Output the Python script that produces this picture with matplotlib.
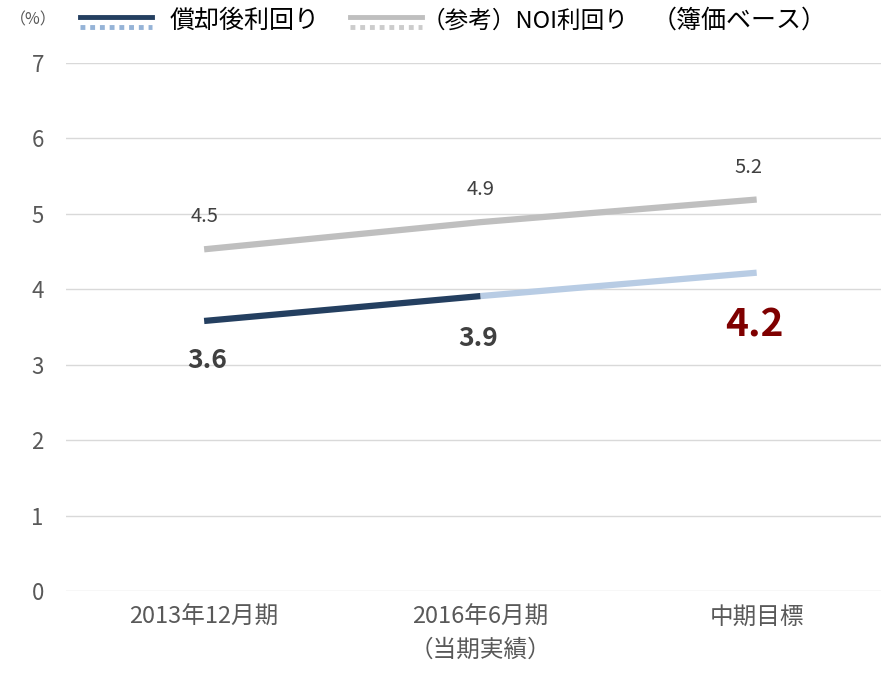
import matplotlib
matplotlib.use("Agg")
import matplotlib.pyplot as plt
from matplotlib.lines import Line2D

plt.rcParams['font.family'] = ['Noto Sans CJK JP', 'DejaVu Sans']

categories = ["2013年12月期", "2016年6月期\n（当期実績）", "中期目標"]
noi_yield = [4.53, 4.89, 5.19]
dep_yield = [3.58, 3.91, 4.22]
noi_labels = ["4.5", "4.9", "5.2"]
dep_labels = ["3.6", "3.9", "4.2"]
yticks = [0, 1, 2, 3, 4, 5, 6, 7]

W, H = 881, 676
fig = plt.figure(figsize=(W / 100, H / 100), dpi=100)
ax = fig.add_axes([66 / W, (H - 591) / H, 1 - 66 / W, (591 - 63) / H])

x = list(range(len(categories)))
ax.plot(x, noi_yield, color='#bfbfbf', lw=4.5, solid_capstyle='butt', zorder=3)
ax.plot(x[1:], dep_yield[1:], color='#b8cce4', lw=4.5, solid_capstyle='butt', zorder=3)
ax.plot(x[:2], dep_yield[:2], color='#243f60', lw=4.5, solid_capstyle='butt', zorder=4)

ax.set_xlim(-0.5, 2.45)
ax.set_ylim(0, 7)
ax.set_yticks(yticks)
ax.yaxis.grid(True, color='#d9d9d9', lw=1)
ax.set_axisbelow(True)
for s in ax.spines.values():
    s.set_visible(False)
ax.tick_params(axis='both', length=0, colors='#595959')
ax.tick_params(axis='y', pad=16, labelsize=16)
ax.tick_params(axis='x', pad=11, labelsize=17)
ax.set_xticks(x)
ax.set_xticklabels(categories, linespacing=1.55)

# data labels
noi_off = [(0, 0.43), (0, 0.43), (-0.03, 0.43)]
for i, (v, t) in enumerate(zip(noi_yield, noi_labels)):
    ax.text(i + noi_off[i][0], v + noi_off[i][1], t, ha='center', va='center',
            fontsize=14.5, color='#404040')
ax.text(0.01, dep_yield[0] - 0.52, dep_labels[0], ha='center', va='center',
        fontsize=19, fontweight='bold', color='#404040')
ax.text(0.99, dep_yield[1] - 0.56, dep_labels[1], ha='center', va='center',
        fontsize=19, fontweight='bold', color='#404040')
ax.text(1.99, dep_yield[2] - 0.69, dep_labels[2], ha='center', va='center',
        fontsize=28, fontweight='bold', color='#7f0000')

# legend (manual)
def fy(py):
    return 1 - py / H

fig.add_artist(Line2D([80 / W, 152 / W], [fy(17), fy(17)], color='#243f60', lw=3.5))
fig.add_artist(Line2D([80 / W, 152 / W], [fy(27), fy(27)], color='#95b3d7', lw=3.5,
                      linestyle=(0, (1, 1))))
fig.add_artist(Line2D([350 / W, 422 / W], [fy(17), fy(17)], color='#bfbfbf', lw=3.5))
fig.add_artist(Line2D([350 / W, 422 / W], [fy(27), fy(27)], color='#cccccc', lw=3.5,
                      linestyle=(0, (1, 1))))
fig.text(170 / W, fy(21), "償却後利回り", fontsize=18, color='#000000', va='center', ha='left')
fig.text(422 / W, fy(21), "（参考）NOI利回り", fontsize=17, color='#000000', va='center', ha='left')
fig.text(652 / W, fy(21), "（簿価ベース）", fontsize=18, color='#000000', va='center', ha='left')
fig.text(10 / W, fy(20), "（%）", fontsize=11.5, color='#595959', va='center', ha='left')

fig.savefig("out.png", dpi=100)
